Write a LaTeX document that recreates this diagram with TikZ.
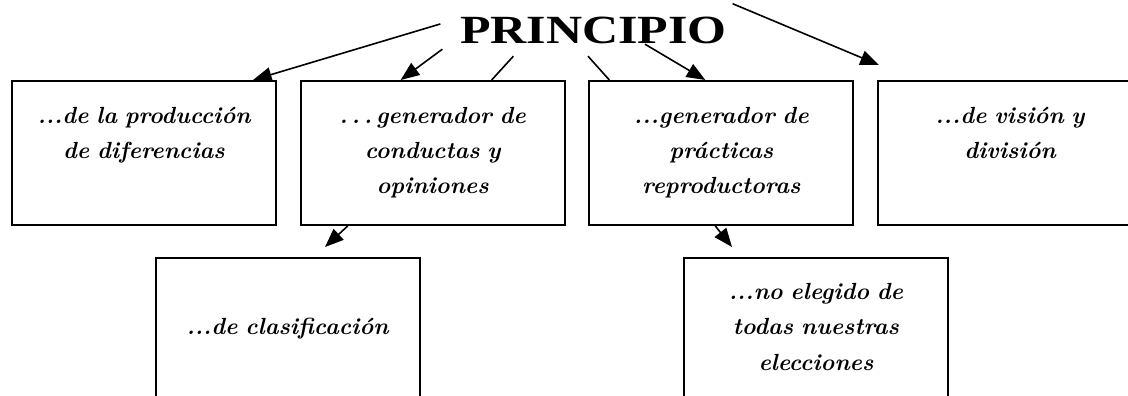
\documentclass[tikz,border=0pt]{standalone}
\usepackage{fontspec}
\newfontfamily\titlefont[FakeStretch=1.25]{Liberation Serif}
\usetikzlibrary{positioning,calc,arrows.meta}

\begin{document}
\begin{tikzpicture}[%
	x=0.75pt,
	y=-0.75pt,
	->,
	>={Triangle[length=14pt,width=11pt]},
	line width=1.2pt,
	node distance=17pt,
	princ/.style={%
		anchor=base,
		inner sep=0pt,
		font=\titlefont\bfseries\fontsize{30}{30}\selectfont
	},
	box/.style={%
		rectangle,
		draw,
		line width=1.5pt,
		anchor=north,
		minimum width=198pt,
		text width=194pt,
		inner sep=0pt,
		text height=31.5pt,
		text depth=76.5pt,
		align=center,
		font=\bfseries\itshape\fontsize{17.5}{26.5}\selectfont
	},
	link/.style={-}
	]
	\useasboundingbox (0,0) rectangle (1128,396);

	\node[princ] (title) at (593.5,43) {PRINCIPIO};
	\node[box] (produccion) at (144,80) {...de la producción\\de diferencias};
	\node[box] (conductas) [right=of produccion] {.\,.\,.\,generador de\\conductas y\\opiniones};
	\node[box] (practicas) [right=of conductas] {...generador de\\prácticas\\reproductoras};
	\node[box] (vision) [right=of practicas] {...de visión y\\división};
	\node[box, text height=57pt, text depth=52.5pt] (clasificacion) at (287.5,257) {...de clasificación};
	\node[box, text height=31pt, text depth=78.5pt] (elecciones) at (816,257) {...no elegido de\\todas nuestras\\elecciones};

	% from the title
	\draw ($(title.west)+(-19,-6)$) -- ($(produccion.north east)+(-24,0)$);
	\draw ($(title.south west)+(-17,5)$) -- ($(conductas.north west)+(101,0)$);
	\draw[link] ($(title.south west)+(54,12)$) -- ($(conductas.north west)+(192,0)$);
	\draw[link] ($(title.south)+(-5.5,12)$) -- ($(practicas.north west)+(21,0)$);
	\draw ($(title.south)+(51.5,0)$) -- ($(practicas.north west)+(117,0)$);
	\draw ($(title.north east)+(5,-12)$) -- ($(vision.north west)+(2,-15)$);
	% second row
	\draw ($(conductas.south west)+(48,0)$) -- ($(clasificacion.north)+(37.5,-10)$);
	\draw ($(practicas.south west)+(127,0)$) -- ($(elecciones.north)+(-84,-10)$);
\end{tikzpicture}
\end{document}
